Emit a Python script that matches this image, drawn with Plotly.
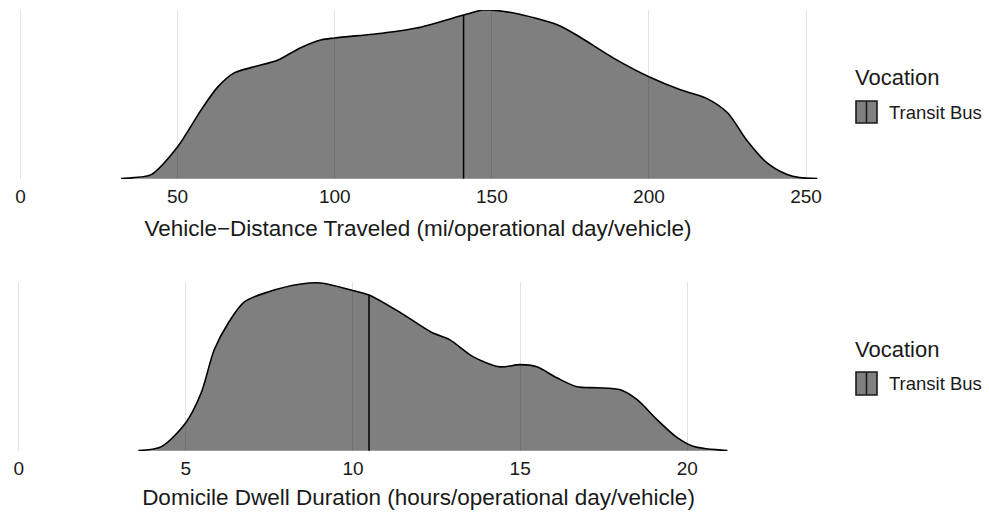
import plotly.graph_objects as go

# ---- data ----
# Vehicle-distance traveled density (relative height, peak = 1)
vdt_x = [32, 36, 41.6, 50, 57.5, 62.8, 68, 74.3, 82, 89, 95.5, 100, 115.6, 126, 141,
         147, 149.5, 157, 171, 178, 188.6, 200, 210, 218, 225, 231, 237.5, 244, 248, 253.6]
vdt_density = [0, 0.006, 0.024, 0.189, 0.408, 0.544, 0.627, 0.663, 0.704, 0.775, 0.822,
               0.834, 0.864, 0.893, 0.970, 1.0, 1.0, 0.982, 0.911, 0.840, 0.716, 0.604,
               0.527, 0.479, 0.391, 0.231, 0.095, 0.024, 0.006, 0]
vdt_median = 141
vdt_median_density = 0.970
vdt_ticks = [0, 50, 100, 150, 200, 250]

# Domicile dwell duration density (relative height, peak = 1)
ddd_x = [3.58, 4.27, 5.0, 5.46, 5.85, 6.27, 6.75, 7.46, 8.45, 9.04, 9.94, 10.48, 11.43,
         12.33, 12.9, 13.6, 14.4, 15.0, 15.5, 16.1, 16.7, 17.3, 18.0, 18.5, 19.1, 19.7,
         20.2, 21.2]
ddd_density = [0, 0.024, 0.166, 0.343, 0.598, 0.757, 0.882, 0.941, 0.988, 0.994, 0.953,
               0.923, 0.817, 0.704, 0.657, 0.556, 0.497, 0.510, 0.497, 0.432, 0.379, 0.373,
               0.361, 0.302, 0.183, 0.077, 0.024, 0]
ddd_median = 10.48
ddd_median_density = 0.923
ddd_ticks = [0, 5, 10, 15, 20]

vocation = "Transit Bus"
legend_title = "Vocation"
x_title_top = "Vehicle\u2212Distance Traveled (mi/operational day/vehicle)"
x_title_bottom = "Domicile Dwell Duration (hours/operational day/vehicle)"

W, H = 989, 514
FONT = "Arial, Liberation Sans, sans-serif"
TXT = "#1a1a1a"
GRID = "#e3e3e3"
FILL = "rgba(0,0,0,0.5)"

def px(x):
    return x / W

def py(y):
    return 1 - y / H

fig = go.Figure()

fig.add_trace(go.Scatter(x=vdt_x, y=vdt_density, mode="lines", fill="tozeroy",
                         fillcolor=FILL, line=dict(color="black", width=1.6, shape="spline", smoothing=0.8),
                         xaxis="x", yaxis="y", showlegend=False, name=vocation))
fig.add_trace(go.Scatter(x=[vdt_median, vdt_median], y=[0, vdt_median_density], mode="lines",
                         line=dict(color="black", width=1.5), xaxis="x", yaxis="y", showlegend=False))

fig.add_trace(go.Scatter(x=ddd_x, y=ddd_density, mode="lines", fill="tozeroy",
                         fillcolor=FILL, line=dict(color="black", width=1.6, shape="spline", smoothing=0.8),
                         xaxis="x2", yaxis="y2", showlegend=False, name=vocation))
fig.add_trace(go.Scatter(x=[ddd_median, ddd_median], y=[0, ddd_median_density], mode="lines",
                         line=dict(color="black", width=1.5), xaxis="x2", yaxis="y2", showlegend=False))

xcommon = dict(showgrid=True, gridcolor=GRID, gridwidth=1, zeroline=False, showline=False,
               ticks="", tickfont=dict(size=19, color=TXT, family=FONT), ticklabelstandoff=4,
               automargin=False)
ycommon = dict(showgrid=True, gridcolor=GRID, gridwidth=1, zeroline=False, showline=False,
               ticks="", showticklabels=False, tickvals=[0], automargin=False)

fig.update_layout(
    width=W, height=H,
    margin=dict(l=0, r=0, t=0, b=0, autoexpand=False),
    paper_bgcolor="white", plot_bgcolor="white",
    font=dict(family=FONT, color=TXT),
    xaxis=dict(domain=[px(18), px(818)], range=[-0.8, 253.8], tickvals=vdt_ticks, anchor="y",
               title=dict(text=x_title_top, font=dict(size=22.5, color=TXT), standoff=14), **xcommon),
    yaxis=dict(domain=[py(179), py(10)], range=[-0.002, 1.0], anchor="x", **ycommon),
    xaxis2=dict(domain=[px(16), px(821)], range=[-0.08, 24], tickvals=ddd_ticks, anchor="y2",
                title=dict(text=x_title_bottom, font=dict(size=22.5, color=TXT), standoff=11), **xcommon),
    yaxis2=dict(domain=[py(451), py(282)], range=[-0.002, 1.0], anchor="x2", **ycommon),
    showlegend=False,
)

# manual legends (one per panel, as in the reference)
for title_y, key_top, key_bot in [(77, 101, 123), (349, 372, 395)]:
    fig.add_annotation(x=px(853), y=py(title_y), xref="paper", yref="paper", text=legend_title,
                       showarrow=False, xanchor="left", yanchor="middle",
                       font=dict(size=22, color=TXT, family=FONT))
    fig.add_shape(type="rect", xref="paper", yref="paper", x0=px(856), x1=px(877),
                  y0=py(key_bot), y1=py(key_top), fillcolor="#808080",
                  line=dict(color="#1a1a1a", width=1.6))
    fig.add_shape(type="line", xref="paper", yref="paper", x0=px(866.5), x1=px(866.5),
                  y0=py(key_bot), y1=py(key_top), line=dict(color="#1a1a1a", width=1.6))
    fig.add_annotation(x=px(887), y=py((key_top + key_bot) / 2), xref="paper", yref="paper",
                       text=vocation, showarrow=False, xanchor="left", yanchor="middle",
                       font=dict(size=18.5, color=TXT, family=FONT))

fig.write_html("out.html", config={"displayModeBar": False},
               post_script="document.body.style.margin='0';")
